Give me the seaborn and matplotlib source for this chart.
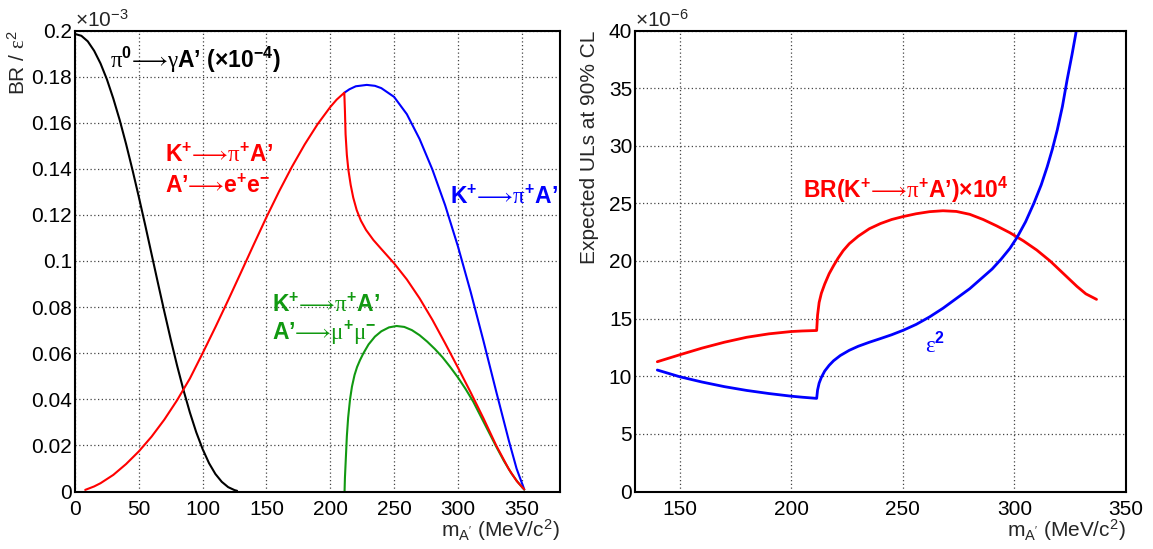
import matplotlib
matplotlib.use("Agg")
import matplotlib.pyplot as plt
import seaborn as sns
from matplotlib.ticker import MultipleLocator

# ---------------- data (left panel, BR/eps^2 in units of 1e-3) ----------------
pi0_mass = [0, 5, 10, 15, 20, 25, 30, 35, 40, 45, 50, 55, 60, 65, 70, 75, 80, 85,
            90, 95, 100, 105, 110, 115, 120, 125, 127]
pi0_br = [0.1985, 0.1977, 0.1953, 0.1912, 0.1857, 0.1788, 0.1705, 0.1612, 0.1508,
          0.1396, 0.1278, 0.1156, 0.1030, 0.0904, 0.0780, 0.0660, 0.0546, 0.0440,
          0.0343, 0.0257, 0.0184, 0.0123, 0.0076, 0.0042, 0.0019, 0.0006, 0.0003]

ee_mass = [8, 15, 20, 30, 40, 50, 60, 70, 80, 90, 100, 110, 120, 130, 140, 150,
           160, 170, 180, 190, 200, 205, 211, 211.5, 212, 213, 214.2, 216, 218,
           220.7, 224, 228, 233.8, 240, 250, 260, 270, 280, 290, 300, 310, 320,
           330, 340, 346, 352]
ee_br = [0.0007, 0.0022, 0.0036, 0.0072, 0.0119, 0.0174, 0.0238, 0.0312, 0.0396,
         0.0490, 0.0600, 0.0713, 0.0830, 0.0950, 0.1071, 0.1190, 0.1303, 0.1409,
         0.1506, 0.1593, 0.1668, 0.1700, 0.1730, 0.1650, 0.1550, 0.1460, 0.1395,
         0.1330, 0.1275, 0.1221, 0.1175, 0.1135, 0.1091, 0.1052, 0.0990, 0.0920,
         0.0838, 0.0745, 0.0643, 0.0538, 0.0430, 0.0318, 0.0200, 0.0096, 0.0046,
         0.0009]

tot_mass = [211, 215, 220, 228.6, 235, 240, 250, 260, 270, 280, 290, 300, 310, 320,
            330, 340, 346, 352]
tot_br = [0.1730, 0.1745, 0.1758, 0.1764, 0.1760, 0.1750, 0.1712, 0.1637, 0.1529,
          0.1397, 0.1242, 0.1064, 0.0866, 0.0654, 0.0434, 0.0219, 0.0099, 0.0009]

mumu_mass = [211.2, 211.5, 212, 213, 214, 215.5, 217, 219, 221, 223.3, 226, 230, 235,
             240, 246, 252, 258, 264, 270, 276, 282, 288, 294, 300, 306, 312, 318,
             324, 330, 336, 342, 347, 352]
mumu_br = [0.0, 0.0060, 0.0120, 0.0240, 0.0320, 0.0400, 0.0455, 0.0505, 0.0540,
           0.0570, 0.0600, 0.0638, 0.0672, 0.0695, 0.0712, 0.0718, 0.0714, 0.0700,
           0.0678, 0.0650, 0.0618, 0.0582, 0.0540, 0.0495, 0.0445, 0.0390, 0.0325,
           0.0260, 0.0195, 0.0133, 0.0078, 0.0040, 0.0008]

# ---------------- data (right panel, units of 1e-6) ----------------
brk_mass = [140, 150, 160, 170, 180, 190, 200, 205, 211.4, 211.8, 212.5, 213.5, 215,
            217, 219, 221, 223.3, 226, 230, 235, 240, 245, 250, 256, 262, 268, 274,
            280, 286, 292, 298, 304, 310, 316, 322, 328, 332, 336.8]
brk_ul = [11.26, 11.86, 12.44, 12.95, 13.38, 13.68, 13.88, 13.93, 13.97, 15.3, 16.4,
          17.2, 18.0, 18.9, 19.6, 20.25, 20.9, 21.5, 22.15, 22.8, 23.25, 23.6, 23.85,
          24.1, 24.28, 24.36, 24.3, 24.05, 23.6, 23.05, 22.45, 21.75, 20.95, 20.0,
          18.9, 17.8, 17.15, 16.67]

eps_mass = [140, 150, 160, 170, 180, 190, 200, 205, 211.4, 211.8, 212.5, 213.5, 215,
            217, 219, 222, 226, 230, 235, 240, 245, 250.3, 256, 262, 268, 274, 280,
            285, 290, 294, 298, 301.2, 305, 308.7, 312, 314.7, 317, 319.2, 321.5,
            323.6, 325.8, 327.8, 330]
eps_ul = [10.54, 9.96, 9.50, 9.10, 8.77, 8.50, 8.27, 8.18, 8.08, 8.8, 9.4, 9.9, 10.45,
          10.95, 11.35, 11.8, 12.25, 12.6, 12.95, 13.27, 13.6, 14.0, 14.5, 15.15,
          15.9, 16.75, 17.6, 18.45, 19.3, 20.15, 21.1, 22.05, 23.4, 25.0, 26.6, 28.18,
          29.7, 31.37, 33.4, 35.7, 37.9, 40.04, 43.0]

# ---------------- style ----------------
sns.set_style("white")
plt.rcParams['font.family'] = ['Liberation Sans', 'DejaVu Sans']
plt.rcParams['mathtext.fontset'] = 'custom'
plt.rcParams['mathtext.rm'] = 'Liberation Sans'
plt.rcParams['mathtext.it'] = 'Liberation Sans:italic'
plt.rcParams['mathtext.bf'] = 'Liberation Sans:bold'
plt.rcParams['mathtext.sf'] = 'Liberation Serif'
plt.rcParams['mathtext.default'] = 'regular'
plt.rcParams['mathtext.fallback'] = 'stixsans'

RED = '#ff0000'
BLUE = '#0000ff'
GREEN = '#119911'
ARR = '⟶'

fig = plt.figure(figsize=(11.53, 5.49), dpi=100)
axL = fig.add_axes([75/1153, 1-491.5/549, 485/1153, 461/549])
axR = fig.add_axes([635/1153, 1-491.5/549, 491/1153, 461/549])


def style_axis(ax):
    for s in ax.spines.values():
        s.set_linewidth(1.5)
        s.set_color('black')
    ax.grid(True, which='major', linestyle=(0, (1, 2)), color='#444444', linewidth=0.9)
    ax.tick_params(which='both', direction='in', top=False, right=False,
                   labelsize=15, colors='black')
    ax.tick_params(which='major', length=7.5, width=1.2)
    ax.tick_params(which='minor', length=4, width=1.0)
    ax.tick_params(axis='y', pad=2)
    ax.tick_params(axis='x', pad=6)
    ax.set_xlabel('')
    ax.set_ylabel('')


# ---------------- left panel ----------------
sns.lineplot(x=pi0_mass, y=pi0_br, ax=axL, color='black', linewidth=1.5, sort=False)
sns.lineplot(x=tot_mass, y=tot_br, ax=axL, color=BLUE, linewidth=1.5, sort=False)
sns.lineplot(x=mumu_mass, y=mumu_br, ax=axL, color=GREEN, linewidth=1.5, sort=False)
sns.lineplot(x=ee_mass, y=ee_br, ax=axL, color=RED, linewidth=1.5, sort=False)
axL.set_xlim(0, 380)
axL.set_ylim(0, 0.2)
axL.xaxis.set_major_locator(MultipleLocator(50))
axL.xaxis.set_minor_locator(MultipleLocator(10))
axL.yaxis.set_minor_locator(MultipleLocator(0.005))
axL.set_yticks([0, 0.02, 0.04, 0.06, 0.08, 0.1, 0.12, 0.14, 0.16, 0.18, 0.2])
axL.set_yticklabels(['0', '0.02', '0.04', '0.06', '0.08', '0.1', '0.12', '0.14',
                     '0.16', '0.18', '0.2'])
style_axis(axL)

axL.text(0.0, 1.0, r'$\times$10$^{-3}$', transform=axL.transAxes,
         ha='left', va='bottom', fontsize=15)
axL.text(-0.118, 1.0, r'BR / $\mathsf{\varepsilon}^{2}$', transform=axL.transAxes,
         rotation=90, ha='center', va='top', fontsize=15)
axL.text(1.0, -0.083, r"m$_{\mathrm{A'}}$ (MeV/c$^{2}$)", transform=axL.transAxes,
         ha='right', va='center', fontsize=15)

FS = 16.5
axL.text(27.4, 0.1872,
         r"$\mathsf{\pi}^{\mathbf{0}}$" + "$" + ARR + "$" +
         r"$\mathsf{\gamma}$A’ ($\times$10$^{\mathbf{-4}}$)",
         fontsize=FS, fontweight='bold', color='black', ha='left', va='center')
kpi = r"K$^{\mathbf{+}}$" + "$" + ARR + "$" + r"$\mathsf{\pi}^{\mathbf{+}}$A’"
axL.text(70.5, 0.146, kpi, fontsize=FS, fontweight='bold', color=RED,
         ha='left', va='center')
axL.text(70.5, 0.1325, r"A’" + "$" + ARR + "$" + r"e$^{\mathbf{+}}$e$^{\mathbf{-}}$",
         fontsize=FS, fontweight='bold', color=RED, ha='left', va='center')
axL.text(293.5, 0.1278, kpi, fontsize=FS, fontweight='bold', color=BLUE,
         ha='left', va='center')
axL.text(154.4, 0.0809, kpi, fontsize=FS, fontweight='bold', color=GREEN,
         ha='left', va='center')
axL.text(154.4, 0.0690,
         r"A’" + "$" + ARR + "$" + r"$\mathsf{\mu}^{\mathbf{+}}\mathsf{\mu}^{\mathbf{-}}$",
         fontsize=FS, fontweight='bold', color=GREEN, ha='left', va='center')

# ---------------- right panel ----------------
sns.lineplot(x=brk_mass, y=brk_ul, ax=axR, color=RED, linewidth=2.0, sort=False)
sns.lineplot(x=eps_mass, y=eps_ul, ax=axR, color=BLUE, linewidth=2.0, sort=False)
axR.set_xlim(130, 350)
axR.set_ylim(0, 40)
axR.xaxis.set_major_locator(MultipleLocator(50))
axR.xaxis.set_minor_locator(MultipleLocator(10))
axR.yaxis.set_major_locator(MultipleLocator(5))
axR.yaxis.set_minor_locator(MultipleLocator(1))
style_axis(axR)

axR.text(0.0, 1.0, r'$\times$10$^{-6}$', transform=axR.transAxes,
         ha='left', va='bottom', fontsize=15)
axR.text(-0.092, 1.0, 'Expected ULs at 90% CL', transform=axR.transAxes,
         rotation=90, ha='center', va='top', fontsize=15)
axR.text(1.0, -0.083, r"m$_{\mathrm{A'}}$ (MeV/c$^{2}$)", transform=axR.transAxes,
         ha='right', va='center', fontsize=15)
axR.text(205.2, 26.2,
         r"BR(K$^{\mathbf{+}}$" + "$" + ARR + "$" +
         r"$\mathsf{\pi}^{\mathbf{+}}$A’)$\times$10$^{\mathbf{4}}$",
         fontsize=FS, fontweight='bold', color=RED, ha='left', va='center')
axR.text(260, 12.7, r"$\mathsf{\varepsilon}^{\mathbf{2}}$",
         fontsize=FS, fontweight='bold', color=BLUE, ha='left', va='center')

fig.savefig('out.png', dpi=100)
